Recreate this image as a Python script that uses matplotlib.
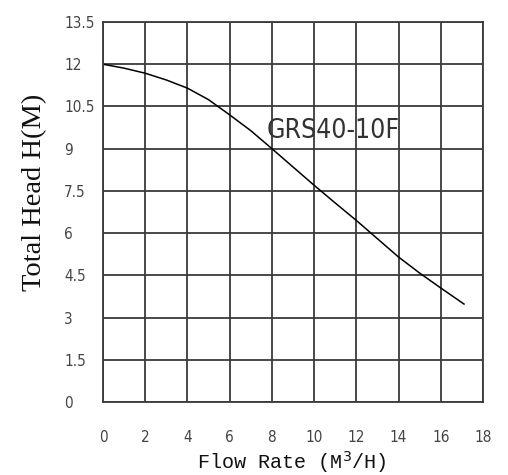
import matplotlib
matplotlib.use("Agg")
import matplotlib.pyplot as plt
from matplotlib.font_manager import fontManager

flow = [0, 1, 2, 3, 4, 5, 6, 7, 8, 9, 10, 11, 12, 13, 14, 15, 16, 17.1]
head = [12.0, 11.86, 11.68, 11.44, 11.15, 10.74, 10.2, 9.64, 9.0, 8.35, 7.7, 7.07, 6.45, 5.8, 5.15, 4.58, 4.05, 3.48]
x_ticks = [0, 2, 4, 6, 8, 10, 12, 14, 16, 18]
y_ticks = [0, 1.5, 3, 4.5, 6, 7.5, 9, 10.5, 12, 13.5]
y_tick_labels = ["0", "1.5", "3", "4.5", "6", "7.5", "9", "10.5", "12", "13.5"]
model = "GRS40-10F"

names = {f.name for f in fontManager.ttflist}
narrow = "Liberation Sans Narrow" if "Liberation Sans Narrow" in names else "DejaVu Sans"

fig = plt.figure(figsize=(5.08, 4.75), dpi=100)
ax = fig.add_axes([103/508, 73/475, 380/508, 380/475])
ax.set_xlim(0, 18)
ax.set_ylim(0, 13.5)
ax.set_xticks(x_ticks)
ax.set_yticks(y_ticks)
ax.set_xticklabels([str(v) for v in x_ticks])
ax.set_yticklabels(y_tick_labels)
ax.grid(True, color="#3a3a3a", linewidth=1.3)
for s in ax.spines.values():
    s.set_color("#3a3a3a")
    s.set_linewidth(1.3)
ax.tick_params(length=0, pad=20, labelsize=11, labelcolor="#444444")
for lab in ax.get_xticklabels() + ax.get_yticklabels():
    lab.set_fontfamily(narrow)
    lab.set_fontstretch("condensed")
for lab in ax.get_yticklabels():
    lab.set_horizontalalignment("left")
ax.tick_params(axis="y", pad=28)
ax.set_axisbelow(True)

ax.plot(flow, head, color="black", linewidth=1.1)

ax.text(7.75, 9.63, model, fontsize=19, fontfamily=narrow, fontstretch="condensed",
        fontweight="light", color="#333333", va="center", ha="left")

fig.text(292/508, 1 - 462/475, "Flow Rate (M$^3$/H)", fontsize=14.5,
         fontfamily="Liberation Mono", ha="center", va="center", color="#111111")
fig.text(35/508, 1 - 192/475, "Total Head H(M)", fontsize=20.5,
         fontfamily="Liberation Serif", rotation=90, ha="center", va="center",
         color="#111111")

fig.savefig("out.png", dpi=100)
